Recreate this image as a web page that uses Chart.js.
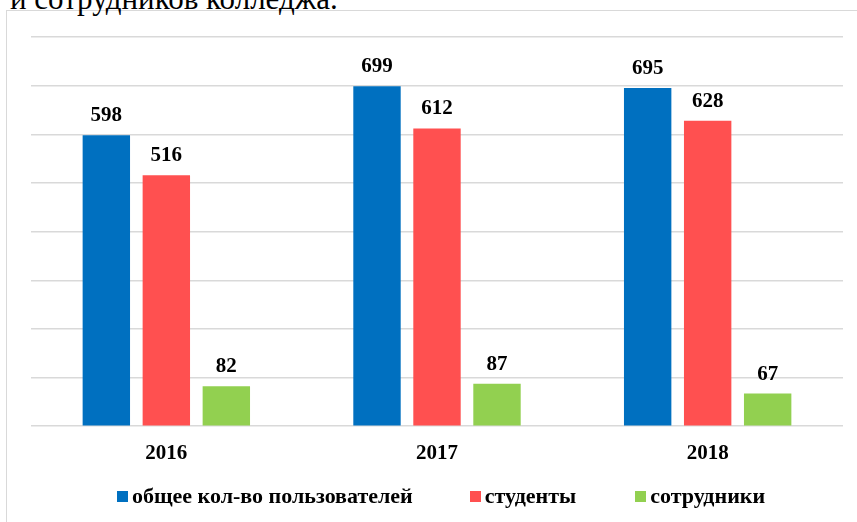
<!DOCTYPE html>
<html>
<head>
<meta charset="utf-8">
<script src="https://cdn.jsdelivr.net/npm/chart.js@4/dist/chart.umd.min.js"></script>
<style>
  html, body { margin: 0; padding: 0; background: #fff; width: 857px; height: 522px; overflow: hidden; position: relative; }
  #frame { position: absolute; left: 6px; top: 10px; width: 900px; height: 560px; border: 1px solid #d9d9d9; background: #fff; }
  #heading { position: absolute; left: 10px; top: -17px; font-family: "Liberation Serif", "Times New Roman", serif; font-size: 31px; line-height: 31px; color: #000; white-space: nowrap; }
  #wrap { position: absolute; left: 0; top: 0; width: 857px; height: 522px; }
  #legend { position: absolute; left: 117px; top: 483px; display: flex; align-items: center; font-family: "Liberation Serif", "Times New Roman", serif; font-weight: bold; font-size: 22px; color: #000; white-space: nowrap; }
  .item { display: flex; align-items: center; }
  .sw { width: 11px; height: 11px; margin-right: 4px; }
</style>
</head>
<body>
<div id="frame"></div>
<div id="heading">и сотрудников колледжа.</div>
<div id="wrap"><canvas id="c" width="857" height="522"></canvas></div>
<div id="legend"></div>
<script>
const categories = ["2016", "2017", "2018"];
const seriesNames = ["общее кол-во пользователей", "студенты", "сотрудники"];
const totalUsers = [598, 699, 695];
const students = [516, 612, 628];
const staff = [82, 87, 67];
const seriesColors = ["#0070C0", "#FF5050", "#92D050"];
const yTicks = [0, 100, 200, 300, 400, 500, 600, 700, 800];

const seriesValues = [totalUsers, students, staff];

const valueLabels = {
  id: 'valueLabels',
  afterDatasetsDraw(chart) {
    const ctx = chart.ctx;
    ctx.save();
    ctx.font = 'bold 21px "Liberation Serif", "Times New Roman", serif';
    ctx.fillStyle = '#000';
    ctx.textAlign = 'center';
    ctx.textBaseline = 'alphabetic';
    chart.data.datasets.forEach((ds, di) => {
      const meta = chart.getDatasetMeta(di);
      meta.data.forEach((bar, i) => {
        ctx.fillText(String(ds.data[i]), bar.x, bar.y - 14);
      });
    });
    ctx.restore();
  }
};

new Chart(document.getElementById('c'), {
  type: 'bar',
  data: {
    labels: categories,
    datasets: seriesNames.map((name, i) => ({
      label: name,
      data: seriesValues[i],
      backgroundColor: seriesColors[i],
      borderWidth: 0,
      categoryPercentage: 0.665,
      barPercentage: 0.79
    }))
  },
  options: {
    responsive: false,
    animation: false,
    layout: { padding: { left: 31, right: 14, top: 37, bottom: 40.6 } },
    plugins: {
      legend: { display: false },
      tooltip: { enabled: false }
    },
    scales: {
      x: {
        grid: { display: false, drawTicks: false },
        border: { display: false },
        ticks: {
          padding: 15,
          color: '#000',
          font: { family: '"Liberation Serif", "Times New Roman", serif', size: 21, weight: 'bold' }
        }
      },
      y: {
        min: 0,
        max: 800,
        afterBuildTicks(scale) { scale.ticks = yTicks.map(v => ({ value: v })); },
        grid: { color: '#d9d9d9', lineWidth: 1.5, drawTicks: false },
        border: { display: false },
        ticks: { display: false }
      }
    }
  },
  plugins: [valueLabels]
});

const legend = document.getElementById('legend');
const gaps = [57, 59];
seriesNames.forEach((name, i) => {
  const item = document.createElement('div');
  item.className = 'item';
  if (i > 0) item.style.marginLeft = gaps[i - 1] + 'px';
  const sw = document.createElement('div');
  sw.className = 'sw';
  sw.style.background = seriesColors[i];
  const t = document.createElement('span');
  t.textContent = name;
  item.appendChild(sw);
  item.appendChild(t);
  legend.appendChild(item);
});
</script>
</body>
</html>
